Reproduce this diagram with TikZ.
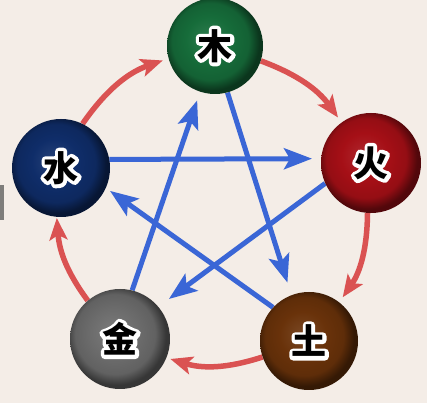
\documentclass[tikz,border=0pt]{standalone}
\usepackage{fontspec}
\newfontfamily\cjk{Noto Sans CJK SC}
\font\cjkwfont="Noto Sans CJK SC Bold:embolden=22" at 35pt
\usetikzlibrary{arrows.meta}
\definecolor{bgcol}{RGB}{244,237,231}
\definecolor{mucol}{RGB}{22,108,58}
\definecolor{huocol}{RGB}{165,15,22}
\definecolor{tucol}{RGB}{105,50,10}
\definecolor{jincol}{RGB}{108,108,108}
\definecolor{shuicol}{RGB}{15,45,105}
\definecolor{redarr}{RGB}{218,82,82}
\definecolor{bluearr}{RGB}{58,102,214}
\newcommand\mkshade[1]{%
  \pgfdeclareradialshading{sh#1}{\pgfpoint{-4bp}{4bp}}{%
    color(0bp)=(#1col!90!white); color(12bp)=(#1col); color(20bp)=(#1col!90!black);
    color(25bp)=(#1col!50!black); color(50bp)=(#1col!50!black)}}
\mkshade{mu}\mkshade{huo}\mkshade{tu}\mkshade{jin}\mkshade{shui}
\newcommand\olchar[1]{\leavevmode\rlap{\cjkwfont\color{white}#1}#1}
\pgfdeclarelayer{bg}
\pgfdeclarelayer{arrows}
\pgfsetlayers{bg,arrows,main}
\begin{document}
\begin{tikzpicture}[x=1pt,y=1pt, line join=round,
  ball/.style={circle, inner sep=0pt, minimum size=#1, text=black,
    font=\cjk\bfseries\fontsize{35}{35}\selectfont},
  redline/.style={draw=redarr, line width=5.5pt,
    -{Stealth[length=22pt,width=18pt,inset=5pt]}},
  blueline/.style={draw=bluearr, line width=5pt,
    -{Stealth[length=28pt,width=21pt,inset=6pt]}}]
\begin{pgfonlayer}{bg}
  \fill[bgcol] (0,0) rectangle (427,403);
  \fill[black!62, opacity=0.8] (0,183) rectangle (4,218);
\end{pgfonlayer}
\useasboundingbox (0,0) rectangle (427,403);

\node[ball=96pt, shading=shmu]   (mu)   at (215,357) {\olchar{木}};
\node[ball=100pt, shading=shhuo] (huo)  at (371,240) {\olchar{火}};
\node[ball=98pt, shading=shtu]   (tu)   at (309,62)  {\olchar{土}};
\node[ball=100pt, shading=shjin] (jin)  at (120,64)  {\olchar{金}};
\node[ball=98pt, shading=shshui] (shui) at (61,235)  {\olchar{水}};

\begin{pgfonlayer}{arrows}
  % generating cycle (outer, red)
  \draw[redline, shorten >=6pt] (mu.342) to[bend left=17] (huo.126);
  \draw[redline, shorten >=6pt] (huo.266) to[bend left=17] (tu.52);
  \draw[redline, shorten >=4pt] (tu.199) to[bend left=17.5] (jin.338);
  \draw[redline, shorten >=1pt] (jin.130) to[bend left=16] (shui.265);
  \draw[redline, shorten >=6pt] (shui.64) to[bend left=18] (mu.195);
  % controlling cycle (star, blue)
  \draw[blueline, shorten >=9pt]  (shui.10) -- (huo.175);
  \draw[blueline, shorten >=9pt]  (jin.76)  -- (mu.252);
  \draw[blueline, shorten >=13pt] (mu.285)  -- (tu.111);
  \draw[blueline, shorten >=13pt] (huo.204) -- (jin.40);
  \draw[blueline, shorten >=5pt]  (tu.137)  -- (shui.336);
\end{pgfonlayer}
\end{tikzpicture}
\end{document}
